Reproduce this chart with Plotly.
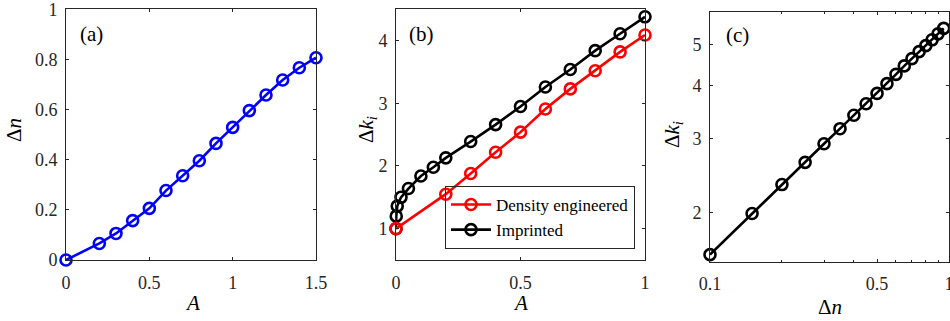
import plotly.graph_objects as go

# ---- data ----
A_a = [0, 0.2, 0.3, 0.4, 0.5, 0.6, 0.7, 0.8, 0.9, 1.0, 1.1, 1.2, 1.3, 1.4, 1.5]
dn_a = [0, 0.066, 0.106, 0.157, 0.206, 0.277, 0.336, 0.396, 0.465, 0.529, 0.596, 0.658, 0.718, 0.767, 0.807]

A_red = [0, 0.2, 0.3, 0.4, 0.5, 0.6, 0.7, 0.8, 0.9, 1.0]
dk_red = [1.0, 1.55, 1.88, 2.22, 2.54, 2.91, 3.23, 3.52, 3.82, 4.09]

A_black = [0, 0.001, 0.005, 0.02, 0.05, 0.1, 0.15, 0.2, 0.3, 0.4, 0.5, 0.6, 0.7, 0.8, 0.9, 1.0]
dk_black = [1.0, 1.2, 1.36, 1.5, 1.64, 1.84, 1.98, 2.13, 2.39, 2.66, 2.95, 3.26, 3.54, 3.84, 4.11, 4.38]

dn_c = [0.10, 0.15, 0.20, 0.25, 0.30, 0.35, 0.40, 0.45, 0.50, 0.55, 0.60, 0.65, 0.70, 0.75, 0.80, 0.85, 0.90, 0.95]
dk_c = [1.59, 1.99, 2.33, 2.63, 2.91, 3.16, 3.40, 3.62, 3.83, 4.04, 4.25, 4.45, 4.63, 4.81, 4.97, 5.13, 5.30, 5.46]

W, H = 950, 321
FONT = "Liberation Serif, Times New Roman, DejaVu Serif, serif"
AX = "#262626"

fig = go.Figure()

def px2x(p):
    return p / W

def px2y(p):
    return 1 - p / H

mk = dict(symbol="circle-open", size=11, line=dict(width=2.6))

fig.add_trace(go.Scatter(x=A_a, y=dn_a, mode="lines+markers", xaxis="x", yaxis="y",
                         line=dict(color="#0000FF", width=2.6),
                         marker=dict(color="#0000FF", **mk), showlegend=False, cliponaxis=False))
fig.add_trace(go.Scatter(x=A_black, y=dk_black, mode="lines+markers", xaxis="x2", yaxis="y2",
                         name="Imprinted", legendrank=2,
                         line=dict(color="#000000", width=2.6),
                         marker=dict(color="#000000", **mk), cliponaxis=False))
fig.add_trace(go.Scatter(x=A_red, y=dk_red, mode="lines+markers", xaxis="x2", yaxis="y2",
                         name="Density engineered", legendrank=1,
                         line=dict(color="#FF0000", width=2.6),
                         marker=dict(color="#FF0000", **mk), cliponaxis=False))
fig.add_trace(go.Scatter(x=dn_c, y=dk_c, mode="lines+markers", xaxis="x3", yaxis="y3",
                         line=dict(color="#000000", width=2.6),
                         marker=dict(color="#000000", **mk), showlegend=False, cliponaxis=False))

common = dict(showgrid=False, zeroline=False, showline=True, linecolor=AX, linewidth=1,
              mirror="ticks", ticks="inside", ticklen=3, tickcolor=AX, tickwidth=1,
              automargin=False, ticklabeloverflow="allow",
              tickfont=dict(family=FONT, size=18, color=AX))
xc = dict(ticklabelstandoff=6, **common)
yc = dict(ticklabelstandoff=4, **common)

ydom_ab = [px2y(260), px2y(9.3)]
ydom_c = [px2y(261.7), px2y(12)]

fig.update_layout(
    width=W, height=H,
    margin=dict(l=0, r=0, t=0, b=0, autoexpand=False),
    paper_bgcolor="white", plot_bgcolor="white",
    xaxis=dict(domain=[px2x(66), px2x(316)], range=[0, 1.5], tickvals=[0, 0.5, 1, 1.5],
               ticktext=["0", "0.5", "1", "1.5"], anchor="y", **xc),
    yaxis=dict(domain=ydom_ab, range=[0, 1], tickvals=[0, 0.2, 0.4, 0.6, 0.8, 1],
               ticktext=["0", "0.2", "0.4", "0.6", "0.8", "1"], anchor="x", **yc),
    xaxis2=dict(domain=[px2x(396), px2x(645)], range=[0, 1], tickvals=[0, 0.5, 1],
                ticktext=["0", "0.5", "1"], anchor="y2", **xc),
    yaxis2=dict(domain=ydom_ab, range=[0.5, 4.5], tickvals=[1, 2, 3, 4],
                ticktext=["1", "2", "3", "4"], anchor="x2", **yc),
    xaxis3=dict(domain=[px2x(710), px2x(949)], type="log", range=[-1, 0],
                tickvals=[0.1, 0.5, 1], ticktext=["0.1", "0.5", "1"], anchor="y3",
                minor=dict(tickvals=[0.2, 0.3, 0.4, 0.6, 0.7, 0.8, 0.9], ticks="inside",
                           ticklen=2, tickcolor=AX, showgrid=False),
                **xc),
    yaxis3=dict(domain=ydom_c, type="log", range=[0.1847, 0.776],
                tickvals=[2, 3, 4, 5], ticktext=["2", "3", "4", "5"], anchor="x3", **yc),
    legend=dict(x=px2x(635), y=px2y(249), xanchor="right", yanchor="bottom",
                bgcolor="rgba(255,255,255,0)", bordercolor=AX, borderwidth=1,
                font=dict(family=FONT, size=17, color="black"),
                tracegroupgap=0, itemwidth=40),
    showlegend=True,
)

ann = []
def label(text, x, y, size=21, angle=0):
    ann.append(dict(text=text, x=px2x(x), y=px2y(y), xref="paper", yref="paper",
                    showarrow=False, font=dict(family=FONT, size=size, color="black"),
                    textangle=angle, xanchor="center", yanchor="middle"))

label("(a)", 91, 34)
label("(b)", 421, 34)
label("(c)", 737, 35)
label("<i>A</i>", 192, 303)
label("<i>A</i>", 520, 303)
label("Δ<i>n</i>", 830, 307)
label("Δ<i>n</i>", 14, 130, angle=-90)
label("Δ<i>k<sub>i</sub></i>", 367, 130, angle=-90)
label("Δ<i>k<sub>i</sub></i>", 673, 135, angle=-90)

fig.update_layout(annotations=ann)
fig.write_html("out.html")
